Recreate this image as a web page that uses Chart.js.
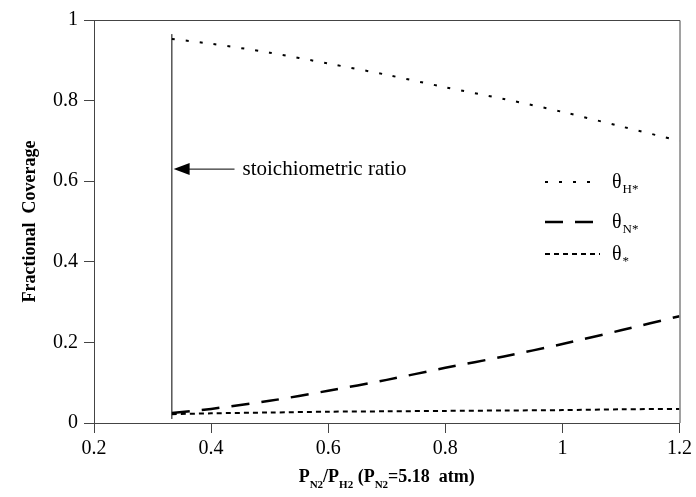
<!DOCTYPE html>
<html lang="en">
<head>
<meta charset="UTF-8">
<title>Fractional Coverage</title>
<script src="https://cdn.jsdelivr.net/npm/chart.js"></script>
<style>
  body { margin: 0; background: #fff; }
  #wrap { width: 696px; height: 497px; position: relative; }
</style>
</head>
<body>
<div id="wrap"><canvas id="coverageChart"></canvas></div>
<script>
// values
const ratio     = [0.333, 0.4,   0.5,   0.6,   0.7,   0.8,   0.9,   1.0,   1.1,   1.2];
const thetaH    = [0.953, 0.941, 0.919, 0.892, 0.864, 0.833, 0.804, 0.772, 0.736, 0.700];
const thetaN    = [0.025, 0.035, 0.055, 0.080, 0.107, 0.137, 0.165, 0.196, 0.230, 0.265];
const thetaFree = [0.022, 0.024, 0.026, 0.028, 0.029, 0.030, 0.031, 0.032, 0.034, 0.035];
const stoichX = [0.333, 0.333];
const stoichY = [0.01, 0.965];
const arrowFrom = [0.44, 0.63];
const arrowTo = [0.336, 0.63];
const noteText = "stoichiometric ratio";
const legendRows = [
  { sub: "H*", dash: [3, 11], width: 2 },
  { sub: "N*", dash: [18, 12], width: 2.5 },
  { sub: "*",  dash: [5, 4], width: 2 }
];

const serif = "'Liberation Serif', 'Times New Roman', serif";
const axisColor = '#444';

function pts(xs, ys) {
  return xs.map((x, i) => ({ x: x, y: ys[i] }));
}

// text with subscripts, parts = [[text, isSub], ...]
function partsWidth(ctx, parts, big, small) {
  let w = 0;
  parts.forEach(p => {
    ctx.font = 'bold ' + (p[1] ? small : big) + 'px ' + serif;
    w += ctx.measureText(p[0]).width;
  });
  return w;
}
function drawParts(ctx, parts, x, y, big, small, bold) {
  ctx.textBaseline = 'alphabetic';
  ctx.textAlign = 'left';
  parts.forEach(p => {
    ctx.font = (bold ? 'bold ' : '') + (p[1] ? small : big) + 'px ' + serif;
    ctx.fillText(p[0], x, p[1] ? y + 6 : y);
    x += ctx.measureText(p[0]).width;
  });
}

const extras = {
  id: 'extras',
  afterDraw(chart) {
    const ctx = chart.ctx;
    const a = chart.chartArea;
    const xs = chart.scales.x, ys = chart.scales.y;
    ctx.save();
    // frame top and right
    ctx.strokeStyle = axisColor;
    ctx.lineWidth = 1;
    ctx.beginPath();
    ctx.moveTo(a.left, a.top + 0.5);
    ctx.lineTo(a.right + 0.5, a.top + 0.5);
    ctx.lineTo(a.right + 0.5, a.bottom);
    ctx.stroke();

    // arrow + note
    const x1 = xs.getPixelForValue(arrowFrom[0]), y1 = ys.getPixelForValue(arrowFrom[1]);
    const x2 = xs.getPixelForValue(arrowTo[0]), y2 = ys.getPixelForValue(arrowTo[1]);
    ctx.strokeStyle = '#000';
    ctx.fillStyle = '#000';
    ctx.beginPath();
    ctx.moveTo(x1, y1);
    ctx.lineTo(x2 + 12, y2);
    ctx.stroke();
    ctx.beginPath();
    ctx.moveTo(x2, y2);
    ctx.lineTo(x2 + 16, y2 - 6);
    ctx.lineTo(x2 + 16, y2 + 6);
    ctx.closePath();
    ctx.fill();
    ctx.font = '21px ' + serif;
    ctx.textBaseline = 'middle';
    ctx.fillText(noteText, x1 + 8, y1);

    // legend
    let ly = 182;
    const gaps = [40, 32];
    legendRows.forEach((r, i) => {
      ctx.save();
      ctx.setLineDash(r.dash);
      ctx.lineWidth = r.width;
      ctx.beginPath();
      ctx.moveTo(545, ly);
      ctx.lineTo(600, ly);
      ctx.stroke();
      ctx.restore();
      ctx.font = '20px ' + serif;
      ctx.textBaseline = 'alphabetic';
      ctx.fillText('\u03b8', 612, ly + 6);
      const tw = ctx.measureText('\u03b8').width;
      ctx.font = '13px ' + serif;
      ctx.fillText(r.sub, 612 + tw + 1, ly + 11);
      ly += gaps[i] || 0;
    });

    // x title
    const xParts = [['P', 0], ['N2', 1], ['/P', 0], ['H2', 1], [' (P', 0], ['N2', 1], ['=5.18  atm)', 0]];
    const w = partsWidth(ctx, xParts, 18, 11);
    drawParts(ctx, xParts, (a.left + a.right) / 2 - w / 2, 482, 18, 11, true);

    // y title
    ctx.translate(30, (a.top + a.bottom) / 2);
    ctx.rotate(-Math.PI / 2);
    ctx.font = 'bold 18px ' + serif;
    ctx.textAlign = 'center';
    ctx.textBaseline = 'middle';
    ctx.fillText('Fractional  Coverage', 0, 0);
    ctx.restore();
  }
};

const tickFont = { family: serif, size: 20 };
const fmt = v => String(Number(v.toFixed(1)));

new Chart(document.getElementById('coverageChart'), {
  type: 'line',
  data: {
    datasets: [
      { data: pts(ratio, thetaH), borderColor: '#000', borderWidth: 2, borderDash: legendRows[0].dash, pointRadius: 0, tension: 0.3 },
      { data: pts(ratio, thetaN), borderColor: '#000', borderWidth: 2.5, borderDash: legendRows[1].dash, pointRadius: 0, tension: 0.3 },
      { data: pts(ratio, thetaFree), borderColor: '#000', borderWidth: 2, borderDash: legendRows[2].dash, pointRadius: 0, tension: 0.3 },
      { data: pts(stoichX, stoichY), borderColor: '#000', borderWidth: 1, pointRadius: 0 }
    ]
  },
  options: {
    responsive: true,
    maintainAspectRatio: false,
    animation: false,
    layout: { padding: { top: 20, right: 16, left: 0, bottom: 0 } },
    plugins: { legend: { display: false }, tooltip: { enabled: false } },
    scales: {
      x: {
        type: 'linear', min: 0.2, max: 1.2,
        ticks: { stepSize: 0.2, color: '#000', font: tickFont, padding: 4, callback: fmt },
        grid: { drawOnChartArea: false, drawTicks: true, tickLength: 10, color: axisColor },
        border: { display: true, color: axisColor },
        afterFit(s) { s.height = 74; }
      },
      y: {
        min: 0, max: 1,
        ticks: { stepSize: 0.2, color: '#000', font: tickFont, padding: 6, callback: fmt },
        grid: { drawOnChartArea: false, drawTicks: true, tickLength: 10, color: axisColor },
        border: { display: true, color: axisColor },
        afterFit(s) { s.width = 94; }
      }
    }
  },
  plugins: [extras]
});
</script>
</body>
</html>
